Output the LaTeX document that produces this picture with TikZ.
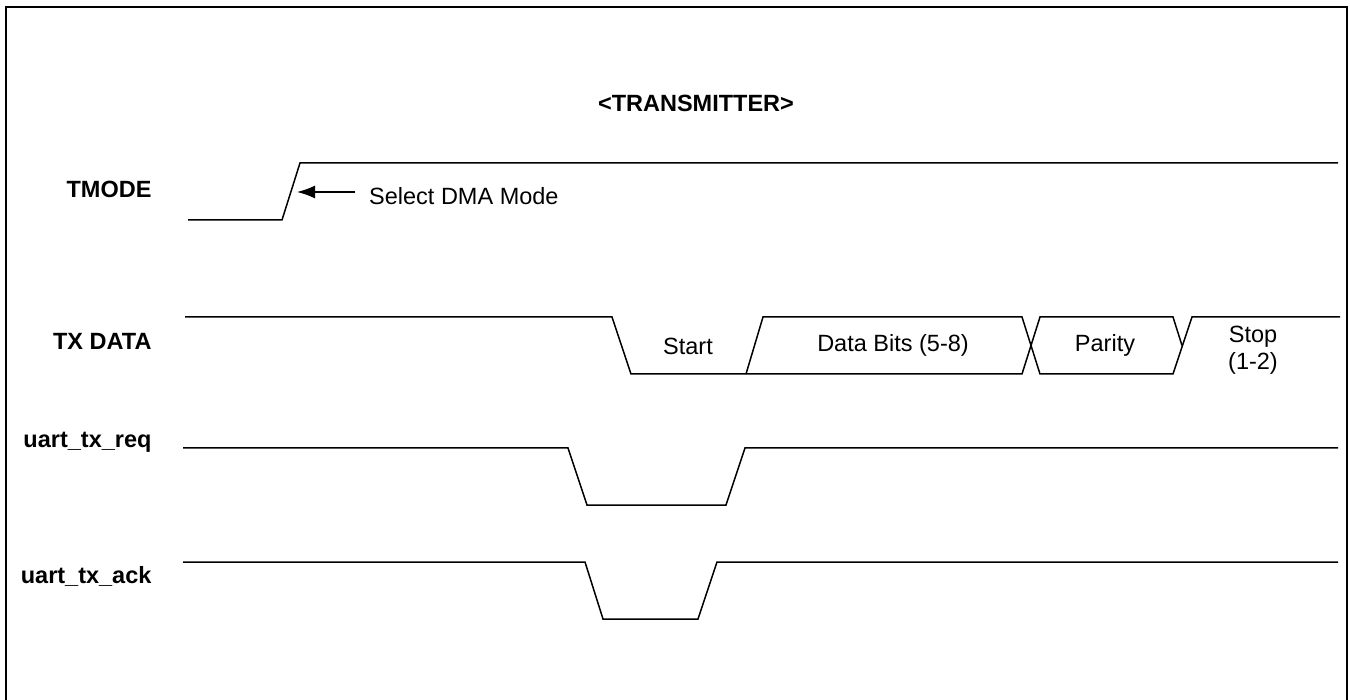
\documentclass[tikz,border=0pt]{standalone}
\usepackage{fontspec}
\setmainfont{Liberation Sans}
\usepackage{tikz}
\usetikzlibrary{arrows.meta,positioning,calc}
\usepackage{xcolor}
\definecolor{ink}{HTML}{000000}

\begin{document}
\begin{tikzpicture}[x=1pt, y=-1pt,
    wave/.style={ink, line width=1.5pt},
    signame/.style={ink, font=\fontsize{23.5}{27}\selectfont\bfseries, anchor=base east},
    fieldtxt/.style={ink, font=\fontsize{23.5}{27}\selectfont}]
  \def\hi{317} \def\lo{374} \def\mid{345.5}
  \useasboundingbox (0,0) rectangle (1350,700);
  % frame
  \draw[ink, line width=2.5pt] (6,7) rectangle (1347,730);
  % title and signal names
  \node[signame, anchor=base] (title) at (696,112) {<TRANSMITTER>};
  \node[signame] (tmode)  at (155,198) {TMODE};
  \node[signame] (txdata) at (155,350) {TX DATA};
  \node[signame] (txreq)  at (155,448) {uart\_tx\_req};
  \node[signame] (txack)  at (155,583) {uart\_tx\_ack};
  % TMODE
  \draw[wave] (188,220) -- (282,220) -- (300,163) -- (1338,163);
  \coordinate (dmatip) at (297,192);
  \node[fieldtxt, anchor=base west, inner xsep=14pt] (dmatxt) at (355,205) {Select DMA Mode};
  \draw[ink, line width=1.5pt, -{Latex[length=18pt, width=13pt]}] (dmatip -| dmatxt.west) -- (dmatip);
  % TX DATA
  \draw[wave] (185,\hi) -- (612,\hi) -- (631,\lo) -- (1022,\lo) -- (1040,\hi)
              -- (1173,\hi) -- (1182,\mid);
  \draw[wave] (746,\lo) -- (763,\hi) -- (1022,\hi) -- (1040,\lo) -- (1173,\lo)
              -- (1192,\hi) -- (1340,\hi);
  \node[fieldtxt] (start)  at (688,346) {Start};
  \node[fieldtxt] (data)   at (893,345) {Data Bits (5-8)};
  \node[fieldtxt] (parity) at (1105,345) {Parity};
  \node[fieldtxt, align=center] (stop) at (1253,350) {Stop\\(1-2)};
  % uart_tx_req
  \draw[wave] (183,448) -- (568,448) -- (587,505) -- (726,505) -- (745,448) -- (1338,448);
  % uart_tx_ack
  \draw[wave] (183,562) -- (585,562) -- (603,619) -- (698,619) -- (717,562) -- (1338,562);
\end{tikzpicture}
\end{document}
